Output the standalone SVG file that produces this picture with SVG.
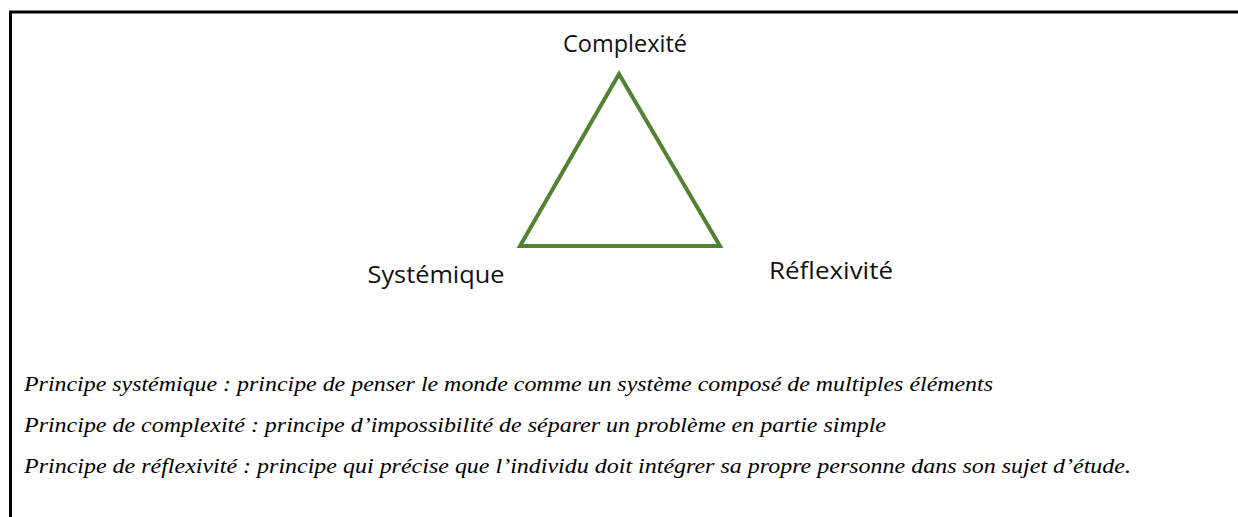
<svg xmlns="http://www.w3.org/2000/svg" width="1238" height="517" viewBox="0 0 1238 517">
<style>
.lbl{font-family:"Open Sans","Noto Sans",sans-serif;font-size:23px;fill:#111;text-anchor:middle}
.def{font-family:"Liberation Serif","Times New Roman",Times,serif;font-style:italic;font-size:22px;fill:#000}
.tri{fill:none;stroke:#548235;stroke-width:4;stroke-linejoin:miter}
</style>
<rect width="1238" height="517" fill="#fff"/>
<g id="frame">
<path d="M10.5 517 V12 H1238" fill="none" stroke="#000" stroke-width="3"/>
</g>
<g id="connectors">
<polygon class="tri" points="619,74 520,246 720,246"/>
</g>
<g id="node-complexite"><text class="lbl" x="625" y="52" textLength="124" lengthAdjust="spacingAndGlyphs">Complexité</text></g>
<g id="node-systemique"><text class="lbl" x="436" y="283" textLength="137" lengthAdjust="spacingAndGlyphs">Systémique</text></g>
<g id="node-reflexivite"><text class="lbl" x="831" y="279" textLength="124" lengthAdjust="spacingAndGlyphs">Réflexivité</text></g>
<g id="definitions">
<text class="def" x="24" y="391" textLength="969" lengthAdjust="spacingAndGlyphs">Principe systémique : principe de penser le monde comme un système composé de multiples éléments</text>
<text class="def" x="24" y="432" textLength="862" lengthAdjust="spacingAndGlyphs">Principe de complexité : principe d’impossibilité de séparer un problème en partie simple</text>
<text class="def" x="24" y="473" textLength="1107" lengthAdjust="spacingAndGlyphs">Principe de réflexivité : principe qui précise que l’individu doit intégrer sa propre personne dans son sujet d’étude.</text>
</g>
</svg>
